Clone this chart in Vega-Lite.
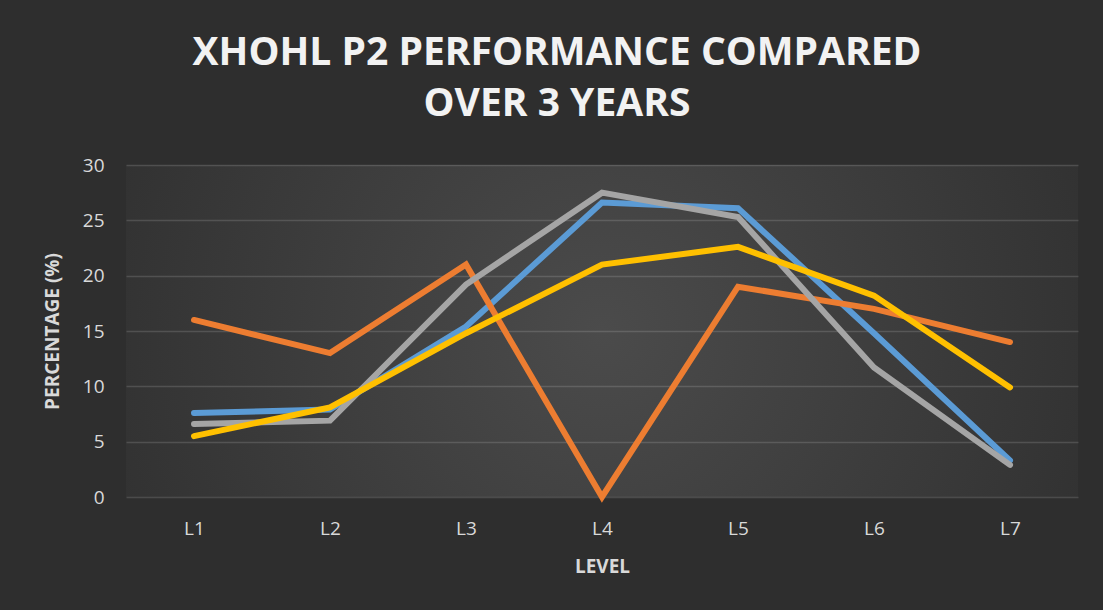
{
  "$schema": "https://vega.github.io/schema/vega-lite/v6.json",
  "autosize": "none",
  "width": 952,
  "height": 332,
  "padding": {"left": 126, "top": 165, "right": 25, "bottom": 113},
  "background": "#2e2e2e",
  "title": {
    "text": ["XHOHL P2 PERFORMANCE COMPARED", "OVER 3 YEARS"],
    "anchor": "middle",
    "dx": -45,
    "dy": 45,
    "offset": 38,
    "baseline": "bottom",
    "font": "Open Sans",
    "fontSize": 39,
    "fontWeight": "bold",
    "lineHeight": 51,
    "color": "#f2f2f2"
  },
  "config": {
    "view": {
      "stroke": null,
      "fill": {
        "gradient": "radial",
        "x1": 0.5, "y1": 0.5, "x2": 0.5, "y2": 0.5, "r1": 0, "r2": 0.62,
        "stops": [
          {"offset": 0, "color": "#4b4b4b"},
          {"offset": 1, "color": "#2e2e2e"}
        ]
      }
    },
    "axis": {
      "labelFont": "Open Sans",
      "titleFont": "Open Sans",
      "labelColor": "#d9d9d9",
      "titleColor": "#d9d9d9",
      "labelFontSize": 19,
      "titleFontSize": 19,
      "titleFontWeight": "bold",
      "domain": false,
      "ticks": false,
      "gridColor": "#ffffff",
      "gridOpacity": 0.14,
      "gridWidth": 1.5
    }
  },
  "data": {
    "values": [
      {"level": "L1", "series": "Series 1", "value": 7.6},
      {"level": "L2", "series": "Series 1", "value": 7.9},
      {"level": "L3", "series": "Series 1", "value": 15.4},
      {"level": "L4", "series": "Series 1", "value": 26.6},
      {"level": "L5", "series": "Series 1", "value": 26.1},
      {"level": "L6", "series": "Series 1", "value": 14.8},
      {"level": "L7", "series": "Series 1", "value": 3.3},
      {"level": "L1", "series": "Series 2", "value": 16.0},
      {"level": "L2", "series": "Series 2", "value": 13.0},
      {"level": "L3", "series": "Series 2", "value": 21.0},
      {"level": "L4", "series": "Series 2", "value": 0.0},
      {"level": "L5", "series": "Series 2", "value": 19.0},
      {"level": "L6", "series": "Series 2", "value": 17.0},
      {"level": "L7", "series": "Series 2", "value": 14.0},
      {"level": "L1", "series": "Series 3", "value": 6.6},
      {"level": "L2", "series": "Series 3", "value": 6.9},
      {"level": "L3", "series": "Series 3", "value": 19.2},
      {"level": "L4", "series": "Series 3", "value": 27.5},
      {"level": "L5", "series": "Series 3", "value": 25.3},
      {"level": "L6", "series": "Series 3", "value": 11.7},
      {"level": "L7", "series": "Series 3", "value": 2.9},
      {"level": "L1", "series": "Series 4", "value": 5.5},
      {"level": "L2", "series": "Series 4", "value": 8.1},
      {"level": "L3", "series": "Series 4", "value": 14.8},
      {"level": "L4", "series": "Series 4", "value": 21.0},
      {"level": "L5", "series": "Series 4", "value": 22.6},
      {"level": "L6", "series": "Series 4", "value": 18.2},
      {"level": "L7", "series": "Series 4", "value": 9.9}
    ]
  },
  "mark": {"type": "line", "strokeWidth": 6, "strokeCap": "round"},
  "encoding": {
    "x": {
      "field": "level",
      "type": "ordinal",
      "scale": {"type": "point", "padding": 0.5},
      "axis": {
        "title": "LEVEL",
        "labelAngle": 0,
        "labelPadding": 22,
        "titlePadding": 19,
        "grid": false
      }
    },
    "y": {
      "field": "value",
      "type": "quantitative",
      "scale": {"domain": [0, 30]},
      "axis": {
        "title": "PERCENTAGE (%)",
        "values": [0, 5, 10, 15, 20, 25, 30],
        "labelPadding": 22,
        "titlePadding": 20
      }
    },
    "color": {
      "field": "series",
      "type": "nominal",
      "scale": {
        "domain": ["Series 1", "Series 2", "Series 3", "Series 4"],
        "range": ["#5b9bd5", "#ed7d31", "#a5a5a5", "#ffc000"]
      },
      "legend": null
    }
  }
}
